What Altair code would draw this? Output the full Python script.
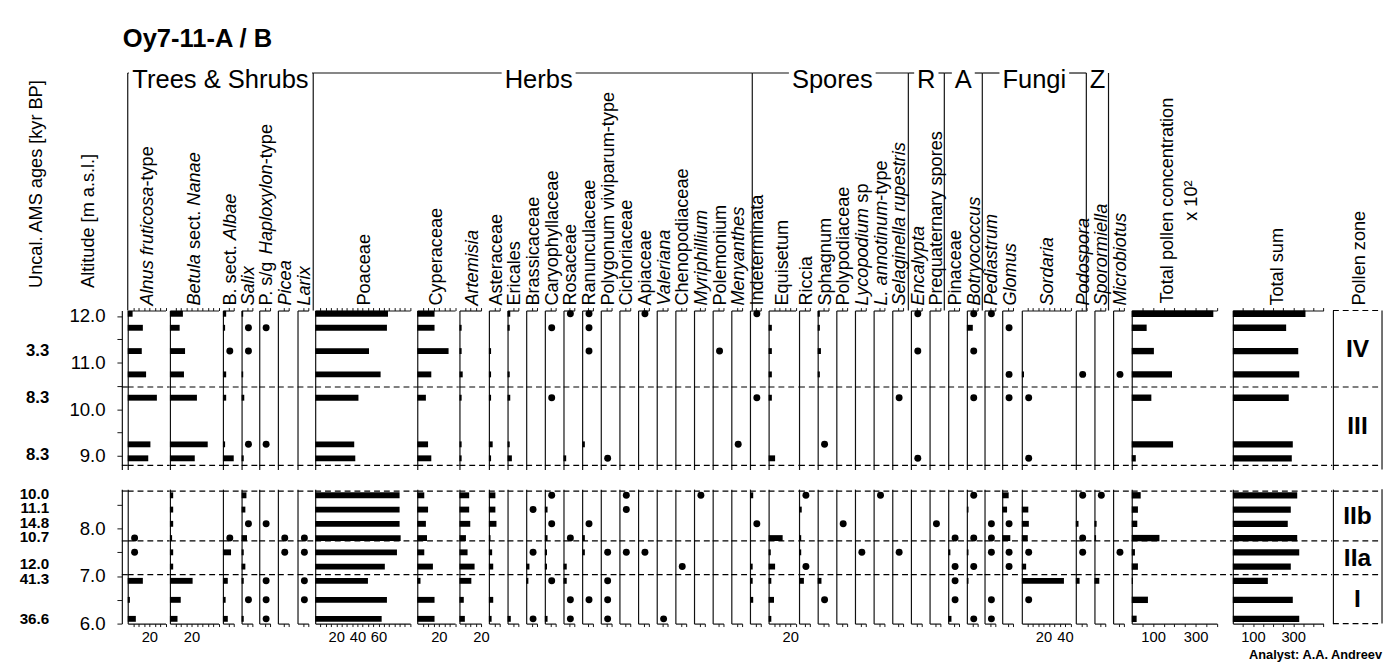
import altair as alt
import pandas as pd

FONT = "Liberation Sans"
D = "dot"  # taxon present (<1 %), drawn as a dot

# ---------------- data ----------------
alt_upper = [12.05, 11.75, 11.25, 10.75, 10.25, 9.25, 8.95]
alt_lower = [8.7, 8.4, 8.1, 7.8, 7.5, 7.2, 6.9, 6.5, 6.1]

age_upper = ["3.3", "8.3", "8.3"]
age_upper_alt = [11.25, 10.25, 9.03]
age_lower = ["10.0", "11.1", "14.8", "10.7", "12.0", "41.3", "36.6"]
age_lower_alt = [8.73, 8.44, 8.11, 7.82, 7.25, 6.93, 6.10]

zone_upper = ["IV", "III"]
zone_upper_bounds = [12.12, 10.48, 8.80]
zone_lower = ["IIb", "IIa", "I"]
zone_lower_bounds = [8.79, 7.74, 7.03, 6.00]

# first 7 values: upper section samples, next 9 values: lower section samples (%)
alnus = [4.5, 14, 13, 17, 27, 21, 19, 0, 0, 0, D, D, 0, 14, 2, 7.5]
betula_nanae = [12, 9, 14, 13, 25, 35, 23, 3, 3, 3, 2, 3, 3, 21, 10, 7]
betula_albae = [3, 2, D, 3, 3, 2, 10, 0, 0, 0, D, 7.5, 0, 4.5, 2.5, 4.5]
salix = [1.5, D, D, 1.5, 2.5, D, 2, 4.5, 3.5, D, 5, 2, 3.5, 2, D, 2]
pinus_haploxylon = [0, D, 0, 0, 0, D, 0, 0, 0, D, 0, 0, 0, D, D, D]
picea = [0, 0, 0, 0, 0, 0, 0, 0, 0, 0, D, D, 0, 0, 0, 0]
larix = [0, 0, 0, 0, 0, 0, 0, 0, 0, 0, D, D, 0, D, D, 0]
poaceae = [69, 68, 51, 62, 41, 37, 38, 80, 80, 80, 81, 77.5, 66, 50, 68, 63]
cyperaceae = [16, 16, 29, 13, 8, 10, 13, 6.5, 10, 8, 9, 6.5, 14.5, 3, 16, 16]
artemisia = [0, 2, 2, 3, 2, 2, 2, 9, 9, 10, 6, 7.5, 14, 11, 4, 5]
asteraceae = [0, 0, 2, 2, 2, 3.5, 2, 6, 6, 7, 1.5, 3, 4, 0, 4, 2.5]
ericales = [2.5, 2, 0, 2, 2.5, 2, 4, 0, 0, 0, 0, 0, 0, 0, 0, 3]
brassicaceae = [0, 0, 0, 0, 0, 0, 0, 0, D, 0, 0, D, 3, 2, 0, D]
caryophyllaceae = [0, D, 0, 0, D, 0, 0, D, 2.5, D, 2.5, 2, 2, D, 0, 2.5]
rosaceae = [D, 0, 0, 0, 0, 0, 2.5, 0, 0, 0, D, 0, 3, 3, D, D]
ranunculaceae = [D, D, D, 0, 0, 2.5, 0, 0, 0, D, 2.5, 2.5, 0, 0, D, 0]
polygonum = [0, 0, 0, 0, 0, 0, D, 0, 0, 0, 0, D, 0, D, D, D]
cichoriaceae = [0, 0, 0, 0, 0, 0, 0, D, D, 0, 0, D, 0, 0, 0, 0]
apiaceae = [D, 0, 0, 0, 0, 0, 0, 0, 0, 0, 0, D, 0, 0, 0, 0]
valeriana = [0, 0, 0, 0, 0, 0, 0, 0, 0, 0, 0, 0, 0, 0, 0, D]
chenopodiaceae = [0, 0, 0, 0, 0, 0, 0, 0, 0, 0, 0, 0, D, 0, 0, 0]
myriophyllum = [0, 0, 0, 0, 0, 0, 0, D, 0, 0, 0, 0, 0, 0, 0, 0]
polemonium = [0, 0, D, 0, 0, 0, 0, 0, 0, 0, 0, 0, 0, 0, 0, 0]
menyanthes = [0, 0, 0, 0, 0, D, 0, 0, 0, 0, 0, 0, 0, 0, 0, 0]
indeterminata = [D, 0, 0, 0, D, 0, 0, 3, 0, D, 0, 0, 2.5, 2.5, 3, 0]
equisetum = [0, 3, 3, 3, 3, 0, 6, 0, 0, 0, 13, 2, 6, 2.5, 5, 2.5]
riccia = [0, 0, 0, 0, 0, 0, 0, D, 2.5, 0, 2, 2, D, 4.5, 0, 0]
sphagnum = [2, 2, 3, 2, 0, D, 0, 0, 0, 0, 0, 0, 0, 3.5, D, 0]
polypodiaceae = [0, 0, 0, 0, 0, 0, 0, 0, 0, D, 0, 0, 0, 0, 0, 0]
lycopodium = [0, 0, 0, 0, 0, 0, 0, 0, 0, 0, 0, D, 0, 0, 0, 0]
l_annotinum = [0, 0, 0, 0, 0, 0, 0, D, 0, 0, 0, 0, 0, 0, 0, 0]
selaginella = [0, 0, 0, 0, D, 0, 0, 0, 0, 0, 0, D, 0, 0, 0, 0]
encalypta = [D, 0, D, 0, 0, 0, D, 0, 0, 0, 0, 0, 0, 0, 0, 0]
prequaternary = [0, 0, 0, 0, 0, 0, 0, 0, 0, D, 0, 0, 0, 0, 0, 0]
pinaceae = [0, 0, 0, 0, 0, 0, 0, 0, 0, 0, D, 2, D, D, D, 3]
botryococcus = [D, 5.5, D, 0, D, 0, 0, D, 1.5, 0, D, 1.5, D, 1.5, 0, D]
pediastrum = [D, 0, 0, 0, 0, 0, 0, 0, 0, D, D, D, 0, 0, D, D]
glomus = [0, D, 0, D, D, 0, 0, 6, 4.5, D, 7.5, D, D, 0, 0, 0]
sordaria = [0, 0, 0, 2, D, 0, D, 0, 6, 6.5, 5.5, D, 4, 39, D, 0]
podospora = [0, 0, 0, D, 0, 0, 0, D, 0, 2.5, D, D, 0, 3.5, 0, 0]
sporormiella = [0, 0, 0, 0, 0, 0, 0, D, 0, 2, 1.5, 0, 0, 4.5, 0, 0]
microbiotus = [0, 0, 0, D, 0, 0, 0, 0, 0, 0, 0, D, 0, 0, 0, 0]
total_conc = [383, 70, 104, 189, 92, 194, 19, 42, 29, 26, 130, 15, 29, 6, 76, 23]
total_sum = [361, 265, 325, 330, 278, 298, 293, 320, 288, 273, 320, 330, 288, 174, 298, 330]

I, R = True, False
# (label segments [text, italic], values, panel width px, labelled bottom ticks)
COLUMNS = [
    ([("Alnus fruticosa", I), ("-type", R)], alnus, 42.7, [20]),
    ([("Betula", I), (" sect. ", R), ("Nanae", I)], betula_nanae, 54.0, [20]),
    ([("B. sect. ", R), ("Albae", I)], betula_albae, 19.0, []),
    ([("Salix", I)], salix, 17.6, []),
    ([("P. s/g ", R), ("Haploxylon", I), ("-type", R)], pinus_haploxylon, 18.4, []),
    ([("Picea", I)], picea, 19.3, []),
    ([("Larix", I)], larix, 18.0, []),
    ([("Poaceae", R)], poaceae, 103.7, [20, 40, 60]),
    ([("Cyperaceae", R)], cyperaceae, 42.3, [20]),
    ([("Artemisia", I)], artemisia, 30.0, [20]),
    ([("Asteraceae", R)], asteraceae, 18.29, []),
    ([("Ericales", R)], ericales, 18.29, []),
    ([("Brassicaceae", R)], brassicaceae, 18.29, []),
    ([("Caryophyllaceae", R)], caryophyllaceae, 18.29, []),
    ([("Rosaceae", R)], rosaceae, 18.29, []),
    ([("Ranunculaceae", R)], ranunculaceae, 18.29, []),
    ([("Polygonum viviparum-type", R)], polygonum, 18.29, []),
    ([("Cichoriaceae", R)], cichoriaceae, 18.29, []),
    ([("Apiaceae", R)], apiaceae, 18.29, []),
    ([("Valeriana", I)], valeriana, 18.29, []),
    ([("Chenopodiaceae", R)], chenopodiaceae, 18.29, []),
    ([("Myriphillium", I)], myriophyllum, 18.29, []),
    ([("Polemonium", R)], polemonium, 18.29, []),
    ([("Menyanthes", I)], menyanthes, 18.29, []),
    ([("Indeterminata", R)], indeterminata, 18.29, []),
    ([("Equisetum", R)], equisetum, 30.7, [20]),
    ([("Riccia", R)], riccia, 18.33, []),
    ([("Sphagnum", R)], sphagnum, 18.33, []),
    ([("Polypodiaceae", R)], polypodiaceae, 18.33, []),
    ([("Lycopodium", I), (" sp", R)], lycopodium, 18.33, []),
    ([("L. annotinum", I), ("-type", R)], l_annotinum, 18.33, []),
    ([("Selaginella rupestris", I)], selaginella, 18.33, []),
    ([("Encalypta", I)], encalypta, 18.33, []),
    ([("Prequaternary spores", R)], prequaternary, 18.33, []),
    ([("Pinaceae", R)], pinaceae, 18.33, []),
    ([("Botryococcus", I)], botryococcus, 17.85, []),
    ([("Pediastrum", I)], pediastrum, 17.85, []),
    ([("Glomus", I)], glomus, 19.3, []),
    ([("Sordaria", I)], sordaria, 55.0, [20, 40]),
    ([("Podospora", I)], podospora, 18.1, []),
    ([("Sporormiella", I)], sporormiella, 18.1, []),
    ([("Microbiotus", I)], microbiotus, 18.1, []),
]
GROUPS = ["Trees & Shrubs", "Herbs", "Spores", "R", "A", "Fungi", "Z"]
GROUP_DX = [0, 6, 2, 0, 0, 0, 0]

# ---------------- layout / style ----------------
H_UP, H_LO = 162, 137
Y_UP, Y_LO = [8.71, 12.12], [6.0, 8.83]
AGES_W, AXIS_W = 116, 6
TPC_W, TS_W, ZONE_W = 102.4, 101.3, 50
LABEL_FS = 18.5

AW = dict(zip("ABCDEFGHIJKLMNOPQRSTUVWXYZ",
              [667, 667, 722, 722, 667, 611, 778, 722, 278, 500, 667, 556, 833,
               722, 778, 667, 778, 722, 667, 611, 722, 667, 944, 667, 667, 611]))
AW.update(zip("abcdefghijklmnopqrstuvwxyz",
              [556, 556, 500, 556, 556, 278, 556, 556, 222, 222, 500, 222, 833,
               556, 556, 556, 556, 333, 500, 278, 556, 500, 722, 500, 500, 500]))
AW.update({c: 556 for c in "0123456789"})
AW.update({" ": 278, "-": 333, ".": 278, "/": 278, "&": 667, "[": 278, "]": 278})


def tw(s, size):
    return sum(AW.get(c, 556) for c in s) * size / 1000.0


DUMMY = pd.DataFrame({"d": [0]})
NO_Y = alt.Axis(orient="left", domain=True, ticks=False, labels=False, title=None, grid=False)


def yscale(upper):
    return alt.Scale(domain=Y_UP if upper else Y_LO, nice=False, zero=False)


def text_at(text, x, y, size, **kw):
    return alt.Chart(DUMMY).mark_text(text=text, font=FONT, fontSize=size, color="black",
                                      **kw).encode(x=alt.value(x), y=alt.value(y))


def hrule(x1, x2, y):
    return alt.Chart(DUMMY).mark_rule(color="#111", strokeWidth=1.2).encode(
        x=alt.value(x1), x2=alt.value(x2), y=alt.value(y))


def vrule(x, y1, y2):
    return alt.Chart(DUMMY).mark_rule(color="#111", strokeWidth=1.2).encode(
        x=alt.value(x), y=alt.value(y1), y2=alt.value(y2))


def rot_label(segments, x, y=-5, size=LABEL_FS):
    out, off = [], 0.0
    for t, it in segments:
        lead = len(t) - len(t.lstrip())
        out.append(text_at(t.strip(), x, y, size, angle=270, align="left", baseline="middle",
                           fontStyle="italic" if it else "normal",
                           dx=off + tw(" " * lead, size)))
        off += tw(t, size)
    return out


def dashed(bounds, upper, w, axis):
    return alt.Chart(pd.DataFrame({"b": bounds})).mark_rule(
        strokeDash=[6, 4], strokeWidth=1.2, color="black").encode(
        y=alt.Y("b:Q", scale=yscale(upper), axis=axis), x=alt.value(0), x2=alt.value(w))


TAXA_BOUNDS_UP = zone_upper_bounds[1:]
TAXA_BOUNDS_LO = zone_lower_bounds[:-1]


def data_panel(vals, upper, w, k, step, tmax, lab_vals, extras, size=6):
    alts = alt_upper if upper else alt_lower
    recs = []
    for a, v in zip(alts, vals):
        if v == D:
            recs.append({"alt": a, "z0": 0.0, "v": 0.0, "pres": 1})
        else:
            recs.append({"alt": a, "z0": 0.0, "v": float(v), "pres": 0})
    df = pd.DataFrame(recs)
    ys = yscale(upper)
    ticks = list(range(step, tmax + 1, step))
    xs = alt.Scale(domain=[0, tmax], range=[0, tmax * k], nice=False, zero=True)
    if upper:
        xa = alt.Axis(orient="top", values=ticks, labels=False, tickSize=3, title=None,
                      grid=False)
    else:
        if lab_vals:
            cond = " || ".join(f"datum.value == {v}" for v in lab_vals)
            expr = f"({cond}) ? datum.label : ''"
        else:
            expr = "''"
        xa = alt.Axis(orient="bottom", values=ticks, labelExpr=expr, tickSize=3,
                      labelFontSize=15, labelPadding=3, title=None, grid=False,
                      labelOverlap=False, labelFlush=False)
    h = H_UP if upper else H_LO
    layers = [dashed(TAXA_BOUNDS_UP if upper else TAXA_BOUNDS_LO, upper, w, NO_Y)]
    layers.append(alt.Chart(df).mark_rule(strokeWidth=size, color="black").encode(
        x=alt.X("z0:Q", scale=xs, axis=xa), x2="v:Q",
        y=alt.Y("alt:Q", scale=ys, axis=NO_Y)))
    dots = df[df["pres"] == 1]
    if len(dots):
        layers.append(alt.Chart(dots).mark_circle(
            size=50, color="black", opacity=1).encode(
            x=alt.value(7), y=alt.Y("alt:Q", scale=ys, axis=NO_Y)))
    layers += extras
    return alt.layer(*layers).properties(width=w, height=h)


def ages_panel(upper, extras):
    df = pd.DataFrame({"t": age_upper if upper else age_lower,
                       "a": age_upper_alt if upper else age_lower_alt})
    t = alt.Chart(df).mark_text(font=FONT, fontSize=17 if upper else 15.5, fontWeight="bold",
                                align="right", baseline="middle", color="black").encode(
        x=alt.value(42), y=alt.Y("a:Q", scale=yscale(upper), axis=None), text="t:N")
    return alt.layer(t, *extras).properties(width=AGES_W, height=H_UP if upper else H_LO)


def axis_panel(upper):
    vals = [9.0, 9.5, 10.0, 10.5, 11.0, 11.5, 12.0] if upper else [6.0, 6.5, 7.0, 7.5, 8.0, 8.5]
    yax = alt.Axis(orient="left", values=vals,
                   labelExpr="datum.value % 1 == 0 ? format(datum.value, '.1f') : ''",
                   tickSize=5, labelFontSize=19, labelPadding=12, title=None, grid=False,
                   labelOverlap=False, labelFlush=False)
    r = dashed(TAXA_BOUNDS_UP if upper else TAXA_BOUNDS_LO, upper, AXIS_W, yax)
    return r.properties(width=AXIS_W, height=H_UP if upper else H_LO)


def zone_panel(upper, extras):
    bounds = zone_upper_bounds if upper else zone_lower_bounds
    names = zone_upper if upper else zone_lower
    mids = [(bounds[i] + bounds[i + 1]) / 2 for i in range(len(names))]
    h = H_UP if upper else H_LO
    lab = alt.Chart(pd.DataFrame({"z": names, "m": mids})).mark_text(
        font=FONT, fontSize=25, fontWeight="bold", align="center", baseline="middle",
        color="black").encode(x=alt.value(ZONE_W / 2),
                              y=alt.Y("m:Q", scale=yscale(upper), axis=NO_Y), text="z:N")
    return alt.layer(dashed(bounds, upper, ZONE_W, NO_Y), vrule(ZONE_W, 0, h), lab,
                     *extras).properties(width=ZONE_W, height=h)


# header decoration (placed in the first taxon panel, relative to its left edge)
starts = [0.0]
for c in COLUMNS:
    starts.append(starts[-1] + c[2])
bnd = [starts[0], starts[7], starts[25] - 3, starts[33] - 3, starts[35] - 3,
       starts[37], starts[41] - 4.5, starts[42]]
header = [text_at("Oy7-11-A / B", -5, -277, 26, fontWeight="bold", align="left")]
for i, g in enumerate(GROUPS):
    c = (bnd[i] + bnd[i + 1]) / 2 + GROUP_DX[i]
    half = tw(g, 26) / 2
    header.append(text_at(g, c, -235, 26, align="center"))
    if c - half - 3 - bnd[i] > 0.8:
        header.append(hrule(bnd[i], c - half - 3, -242))
    if bnd[i + 1] - (c + half + 3) > 0.8:
        header.append(hrule(c + half + 3, bnd[i + 1], -242))
for b in bnd:
    header.append(vrule(b, -242, 0))

upper_panels = [
    ages_panel(True, [
        text_at("Uncal. AMS ages [kyr BP]", 29, -23, 18.5, angle=270, align="left",
                baseline="middle"),
        text_at("Altitude [m a.s.l.]", 82, -23, 18.5, angle=270, align="left",
                baseline="middle")]),
    axis_panel(True),
]
lower_panels = [ages_panel(False, []), axis_panel(False)]

for idx, (segs, vals, w, labs) in enumerate(COLUMNS):
    k = 1.075 if idx == 7 else 1.1
    tmax = int(((w - 3) / k) // 5 * 5)
    extras = rot_label(segs, w / 2 - 2)
    if idx == 0:
        extras = header + extras
    upper_panels.append(data_panel(vals[:7], True, w, k, 5, tmax, labs, extras))
    lower_panels.append(data_panel(vals[7:], False, w, k, 5, tmax, labs, []))

tpc_label = [alt.Chart(DUMMY).mark_text(
    text=["Total pollen concentration", "x 10²"], font=FONT, fontSize=LABEL_FS,
    angle=270, align="center", baseline="middle", lineHeight=25, color="black").encode(
    x=alt.value(TPC_W / 2 - 15.5), y=alt.value(-112))]
upper_panels.append(data_panel(total_conc[:7], True, TPC_W, 0.217, 50, 400, [100, 300],
                               tpc_label, size=6.5))
lower_panels.append(data_panel(total_conc[7:], False, TPC_W, 0.217, 50, 400, [100, 300], [],
                               size=6.5))
upper_panels.append(data_panel(total_sum[:7], True, TS_W, 0.205, 50, 450, [100, 300],
                               rot_label([("Total sum", R)], TS_W / 2 - 6), size=6.5))
lower_panels.append(data_panel(total_sum[7:], False, TS_W, 0.205, 50, 450, [100, 300], [],
                               size=6.5))
upper_panels.append(zone_panel(True, rot_label([("Pollen zone", R)], ZONE_W / 2 + 2)))
lower_panels.append(zone_panel(False, [
    text_at("Analyst: A.A. Andreev", ZONE_W, H_LO + 32, 13, fontWeight="bold",
            align="right")]))

upper_row = alt.hconcat(*upper_panels, spacing=0, bounds="flush")
lower_row = alt.hconcat(*lower_panels, spacing=0, bounds="flush")

chart = alt.vconcat(upper_row, lower_row, spacing=16, bounds="full").configure_view(
    stroke=None).configure_axis(
    domainColor="#111", tickColor="#111", labelColor="black", labelFont=FONT,
    domainWidth=1.2, tickWidth=1).properties(
    padding={"top": 12, "left": 0, "right": 0, "bottom": 0})

chart.save("out.html", embed_options={"renderer": "svg", "actions": False})
